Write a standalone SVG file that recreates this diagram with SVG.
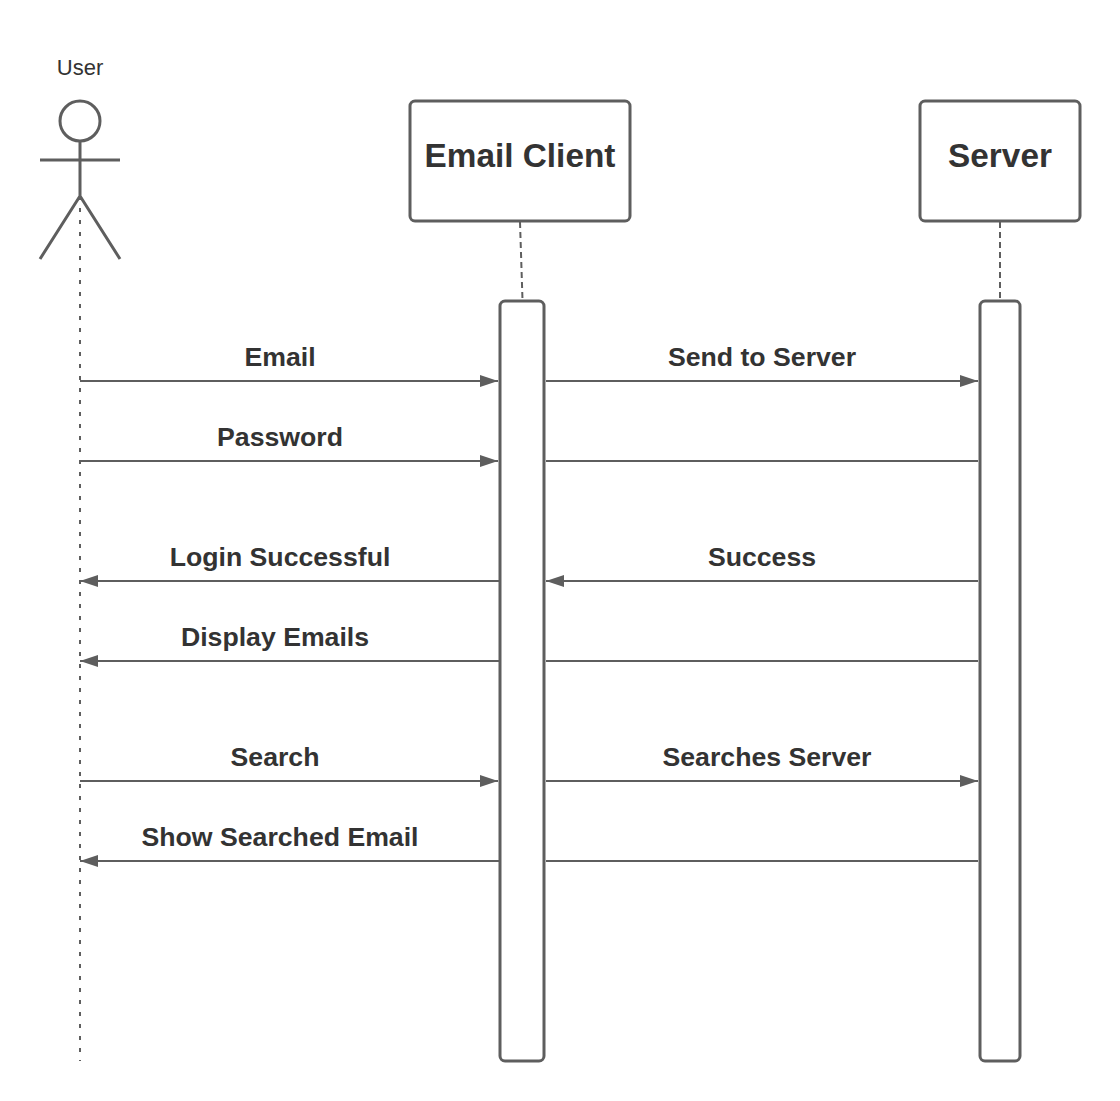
<svg xmlns="http://www.w3.org/2000/svg" width="1120" height="1101" viewBox="0 0 1120 1101">
<defs>
<marker id="arrow" markerUnits="userSpaceOnUse" markerWidth="18" markerHeight="12" refX="18" refY="6" orient="auto"><path d="M0 0L18 6L0 12Z" fill="#5e5e5e"/></marker>
</defs>
<style>
.box{fill:#fff;stroke:#5e5e5e;stroke-width:3}
.line{fill:none;stroke:#5e5e5e;stroke-width:2}
.arr{marker-end:url(#arrow)}
.life{fill:none;stroke:#5e5e5e;stroke-width:2;stroke-dasharray:6 4}
.dot{fill:none;stroke:#5e5e5e;stroke-width:2;stroke-dasharray:4 8}
.actor{fill:none;stroke:#5e5e5e;stroke-width:3}
text{font-family:"Liberation Sans",Arial,sans-serif;fill:#333;text-anchor:middle}
.msg{font-size:26.67px;font-weight:bold}
.title{font-size:33.33px;font-weight:bold}
.name{font-size:22px;font-weight:normal}
</style>
<rect width="1120" height="1101" fill="#fff"/>
<g id="connectors">
<path class="dot" d="M80 196V1061"/>
<path class="life" d="M520 222L522.500 300"/>
<path class="life" d="M1000 222V300"/>
<path class="line arr" d="M80 381H498"/>
<path class="line arr" d="M546 381H978"/>
<path class="line arr" d="M80 461H498"/>
<path class="line" d="M546 461H978"/>
<path class="line arr" d="M499 581H80"/>
<path class="line arr" d="M978 581H546"/>
<path class="line arr" d="M499 661H80"/>
<path class="line" d="M546 661H978"/>
<path class="line arr" d="M80 781H498"/>
<path class="line arr" d="M546 781H978"/>
<path class="line arr" d="M499 861H80"/>
<path class="line" d="M546 861H978"/>
</g>
<g id="user">
<text class="name" x="80" y="75">User</text>
<circle class="actor" cx="80" cy="121" r="20"/>
<path class="actor" d="M80 141V196M40 160H120M40 259L80 196L120 259"/>
</g>
<g id="email-client">
<rect class="box" x="410" y="101" width="220" height="120" rx="5"/>
<text class="title" x="520" y="167">Email Client</text>
</g>
<g id="server">
<rect class="box" x="920" y="101" width="160" height="120" rx="5"/>
<text class="title" x="1000" y="167">Server</text>
</g>
<g id="email-client-activation"><rect class="box" x="500" y="301" width="44" height="760" rx="5"/></g>
<g id="server-activation"><rect class="box" x="980" y="301" width="40" height="760" rx="5"/></g>
<g id="labels">
<text class="msg" x="280" y="366">Email</text>
<text class="msg" x="762" y="366">Send to Server</text>
<text class="msg" x="280" y="446">Password</text>
<text class="msg" x="280" y="566">Login Successful</text>
<text class="msg" x="762" y="566">Success</text>
<text class="msg" x="275" y="646">Display Emails</text>
<text class="msg" x="275" y="766">Search</text>
<text class="msg" x="767" y="766">Searches Server</text>
<text class="msg" x="280" y="846">Show Searched Email</text>
</g>
</svg>
